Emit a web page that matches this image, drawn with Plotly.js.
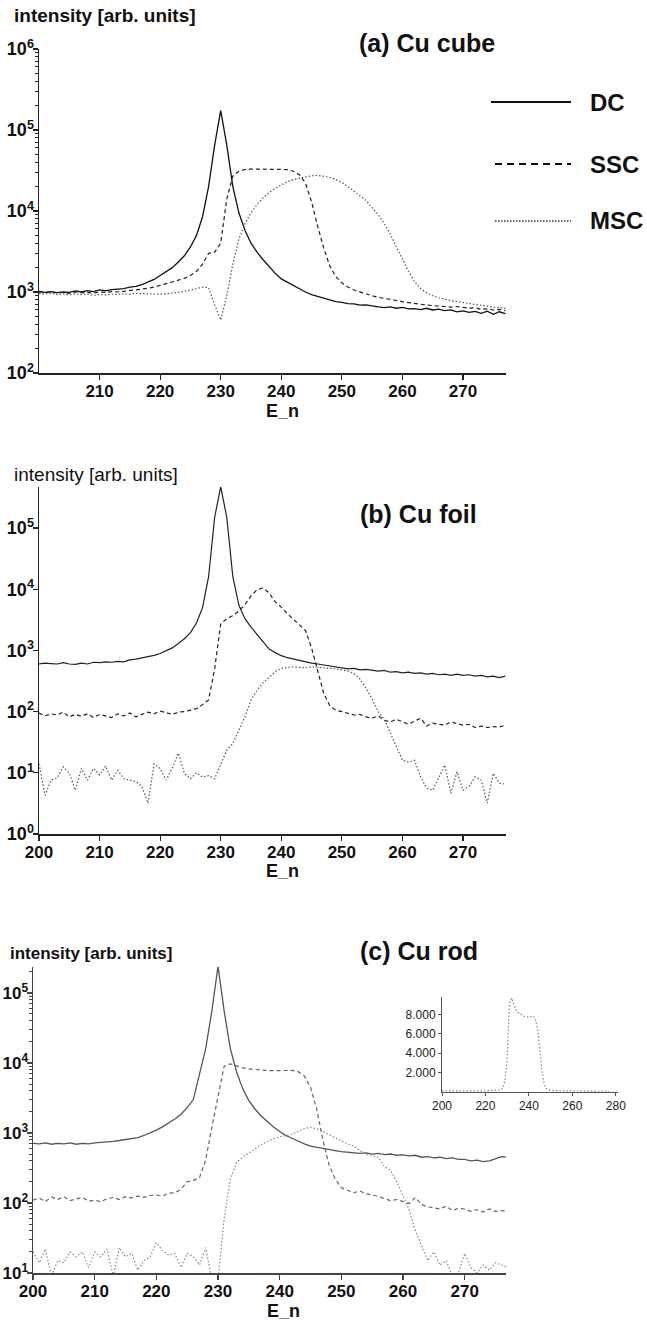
<!DOCTYPE html>
<html>
<head>
<meta charset="utf-8">
<script src="https://cdn.plot.ly/plotly-3.0.1.min.js"></script>
<style>
  html, body { margin: 0; padding: 0; background: #fff; }
  #chart { width: 647px; height: 1322px; }
</style>
</head>
<body>
<div id="chart"></div>
<script>
// ---------------- DATA ----------------
const energy = [200,201,202,203,204,205,206,207,208,209,210,211,212,213,214,215,216,217,218,219,
  220,221,222,223,224,225,226,227,228,229,230,231,232,233,234,235,236,237,238,239,
  240,241,242,243,244,245,246,247,248,249,250,251,252,253,254,255,256,257,258,259,
  260,261,262,263,264,265,266,267,268,269,270,271,272,273,274,275,276,277];

// (a) Cu cube
const dcCube = [1020,990,1010,985,1000,990,1030,1000,1040,1010,1060,1030,1070,1090,1100,1150,1170,1230,1320,1430,
  1600,1780,2000,2350,2800,3600,5000,8500,20000,65000,174000,65000,20000,9500,5800,4000,3100,2500,2050,1700,
  1450,1320,1200,1080,1000,930,880,840,790,760,745,720,715,690,695,670,655,640,655,630,
  645,620,625,605,630,600,615,590,600,570,585,560,575,545,580,530,570,540];
const sscCube = [1000,980,1010,970,990,960,1000,980,990,970,1000,990,1010,1000,1020,1040,1060,1080,1110,1150,
  1200,1260,1330,1400,1470,1600,1800,2200,3000,3100,4000,14000,27000,31000,32500,33000,33000,33000,33000,33000,
  33000,32500,31000,28000,22000,13000,6500,3500,2100,1550,1300,1150,1060,1000,950,900,860,830,800,780,
  760,740,720,700,690,680,670,660,650,660,640,630,640,610,620,600,610,590];
const mscCube = [960,940,970,930,950,920,950,930,940,910,930,920,940,930,950,940,960,950,960,950,
  940,950,960,990,1020,1050,1100,1150,1130,700,450,900,2200,4500,7000,9500,12000,14500,17000,19000,
  21000,23000,24500,25500,26500,27200,27500,27000,26000,24500,22500,20000,17500,15500,13500,11000,9000,7000,5200,3600,
  2500,1800,1350,1100,980,900,850,810,780,760,740,720,700,680,660,650,640,630];

// (b) Cu foil
const dcFoil = [600,620,610,600,630,600,590,620,600,640,630,650,640,660,650,700,720,750,790,830,
  890,980,1100,1300,1550,1950,2800,5000,16000,150000,470000,150000,16000,5500,3300,2400,1800,1350,1050,920,
  820,760,720,680,650,620,600,580,560,540,530,500,510,480,490,470,460,470,440,450,
  430,440,420,430,410,420,400,410,390,410,390,400,380,390,370,380,360,380];
const sscFoil = [95,85,92,88,98,82,90,84,92,80,90,86,80,92,85,95,82,90,98,92,
  102,96,90,98,100,106,112,130,155,500,2700,3300,3700,4400,5600,7800,9800,10500,8700,6200,
  5100,4000,3200,2600,2100,1100,450,200,125,105,100,95,88,90,82,78,85,72,68,75,
  68,62,70,78,58,65,62,60,68,63,60,62,55,58,55,57,56,60];
const mscFoil = [14,4.3,7.6,8.3,12.5,9.8,5.2,11.8,7.6,11.8,9.2,12.9,7.6,11,8,7.6,7.2,5.9,3.2,14,
  11.8,7.6,11.8,21,9.8,8,10,8.5,9,8,14,23.5,30,50,83,155,225,295,370,450,
  510,530,540,530,520,540,530,520,520,500,480,460,420,340,240,160,100,75,45,27,
  16,15,16,8.6,5.6,5.2,8.6,13.4,4.6,10.4,5.2,6,8.6,7.6,3.2,9.8,6.8,6.5];

// (c) Cu rod
const dcRod = [710,700,720,690,710,700,720,690,710,700,720,730,740,760,780,800,820,860,920,1000,
  1100,1220,1380,1580,1850,2300,3000,7000,16000,55000,240000,55000,16000,7500,4300,2900,2200,1750,1450,1220,
  1050,920,840,760,700,650,630,600,580,560,540,530,520,510,520,500,510,490,500,480,
  485,470,480,450,460,440,450,430,440,420,420,400,410,390,400,430,460,450];
const sscRod = [110,118,105,122,112,123,108,115,120,106,110,104,115,120,112,123,118,125,120,128,
  130,125,138,140,157,200,210,230,410,1200,3500,9000,9700,9000,8500,8200,8000,7900,7800,7750,
  7700,7800,7850,7500,6500,4500,2200,800,350,220,165,150,140,148,135,130,125,115,108,112,
  105,98,120,95,88,85,82,90,78,84,82,76,80,74,82,76,78,75];
const mscRod = [20,14,22,9,15,14,20,17,20,12,20,17,22,9,23,17,19,11,15,17,
  27,21,18,19,12,19,17,13,23,8,8,60,220,380,450,520,600,680,760,830,
  880,920,960,1050,1150,1200,1150,1050,950,850,780,700,650,560,500,480,450,330,290,200,
  130,80,40,25,15,20,13,15,9,10,19,12,10,13,11,14,13,12];

// tick values / labels
const xTicksA = [210,220,230,240,250,260,270];
const xTicksBC = [200,210,220,230,240,250,260,270];
const yTicksA = [1e2,1e3,1e4,1e5,1e6];
const yTextA = ['10<sup>2</sup>','10<sup>3</sup>','10<sup>4</sup>','10<sup>5</sup>','10<sup>6</sup>'];
const yTicksB = [1,10,100,1e3,1e4,1e5];
const yTextB = ['10<sup>0</sup>','10<sup>1</sup>','10<sup>2</sup>','10<sup>3</sup>','10<sup>4</sup>','10<sup>5</sup>'];
const yTicksC = [10,100,1e3,1e4,1e5];
const yTextC = ['10<sup>1</sup>','10<sup>2</sup>','10<sup>3</sup>','10<sup>4</sup>','10<sup>5</sup>'];
const insetXTicks = [200,220,240,260,280];
const insetYTicks = [2000,4000,6000,8000];
const insetYText = ['2.000','4.000','6.000','8.000'];
const seriesNames = ['DC','SSC','MSC'];

// ---------------- LAYOUT HELPERS ----------------
const W = 647, H = 1322;
const px = v => v / W;
const py = v => 1 - v / H;

function minorTicks(lo, hi) {
  const out = [];
  for (let e = lo; e < hi; e++) for (let d = 2; d <= 9; d++) out.push(d * Math.pow(10, e));
  return out;
}

const FONT = 'Liberation Sans, Arial, sans-serif';
const bold = (size, color) => ({family: FONT, size: size, weight: 'bold', color: color || '#111'});

function line(x, y, xa, ya, color, dash, width) {
  return {x: x, y: y, xaxis: xa, yaxis: ya, type: 'scatter', mode: 'lines',
    line: {color: color, dash: dash, width: width || 1.2}, showlegend: false, hoverinfo: 'skip'};
}

const DASH = '4px,3px';
const DOT = '1.5px,2px';

const traces = [
  line(energy, dcCube, 'x', 'y', '#111', 'solid', 1.3),
  line(energy, sscCube, 'x', 'y', '#222', DASH),
  line(energy, mscCube, 'x', 'y', '#555', DOT),
  line(energy, dcFoil, 'x2', 'y2', '#222', 'solid', 1.2),
  line(energy, sscFoil, 'x2', 'y2', '#222', DASH),
  line(energy, mscFoil, 'x2', 'y2', '#555', DOT),
  line(energy, dcRod, 'x3', 'y3', '#555', 'solid', 1.3),
  line(energy, sscRod, 'x3', 'y3', '#666', DASH),
  line(energy, mscRod, 'x3', 'y3', '#888', DOT),
  line(energy, sscRod, 'x4', 'y4', '#888', DOT, 1.2)
];

function xAxis(domain, range, anchor, tickvals, color) {
  return {domain: domain, range: range, anchor: anchor, tickmode: 'array', tickvals: tickvals,
    ticktext: tickvals.map(String), showline: true, linecolor: color, linewidth: 1.5,
    ticks: 'outside', ticklen: 5, tickwidth: 1.2, tickcolor: color, showgrid: false, zeroline: false,
    tickfont: bold(17), fixedrange: true, ticklabelstandoff: -3};
}
function yAxis(domain, range, anchor, tickvals, ticktext, color, minor, fsize) {
  const ax = {type: 'log', domain: domain, range: range, anchor: anchor, tickmode: 'array',
    tickvals: tickvals, ticktext: ticktext, showline: true, linecolor: color, linewidth: 1.5,
    ticks: 'outside', ticklen: 5, tickwidth: 1.2, tickcolor: color, showgrid: false, zeroline: false,
    tickfont: bold(fsize || 18), fixedrange: true, ticklabelstandoff: -5};
  if (minor) ax.minor = {tickmode: 'array', tickvals: minor, ticks: 'outside', ticklen: 3,
    tickwidth: 1, tickcolor: color, showgrid: false};
  return ax;
}

const layout = {
  width: W, height: H, margin: {l: 0, r: 0, t: 0, b: 0},
  paper_bgcolor: '#fff', plot_bgcolor: 'rgba(0,0,0,0)', showlegend: false,
  xaxis: xAxis([px(39), px(506)], [200, 277.1], 'y', xTicksA, '#222'),
  yaxis: yAxis([py(373), py(49)], [2, 6], 'x', yTicksA, yTextA, '#222', minorTicks(2, 6), 18),
  xaxis2: xAxis([px(39), px(506)], [200, 277.1], 'y2', xTicksBC, '#222'),
  yaxis2: yAxis([py(834), py(487)], [0, 5.67], 'x2', yTicksB, yTextB, '#222', null, 18),
  xaxis3: xAxis([px(33), px(506)], [200, 276.7], 'y3', xTicksBC, '#444'),
  yaxis3: yAxis([py(1273), py(967)], [1, 5.37], 'x3', yTicksC, yTextC, '#444', minorTicks(1, 6).filter(v => v < 2.35e5), 17),
  xaxis4: {domain: [px(442), px(618)], range: [200, 281], anchor: 'y4', tickmode: 'array',
    tickvals: insetXTicks, ticktext: insetXTicks.map(String), showline: true, linecolor: '#555', linewidth: 1,
    ticks: 'outside', ticklen: 3, tickcolor: '#555', showgrid: false, zeroline: false,
    tickfont: {family: FONT, size: 12, color: '#222'}, fixedrange: true},
  yaxis4: {domain: [py(1092), py(997)], range: [0, 9800], anchor: 'x4', tickmode: 'array',
    tickvals: insetYTicks, ticktext: insetYText, showline: true, linecolor: '#555', linewidth: 1,
    ticks: 'outside', ticklen: 3, tickcolor: '#555', showgrid: false, zeroline: false,
    tickfont: {family: FONT, size: 12, color: '#222'}, fixedrange: true},
  annotations: [
    {text: 'intensity [arb. units]', xref: 'paper', yref: 'paper', x: px(12), y: py(15), xanchor: 'left', yanchor: 'middle', showarrow: false, font: bold(19)},
    {text: '(a) Cu cube', xref: 'paper', yref: 'paper', x: px(357), y: py(43), xanchor: 'left', yanchor: 'middle', showarrow: false, font: bold(25)},
    {text: 'E_n', xref: 'paper', yref: 'paper', x: px(282), y: py(411), xanchor: 'center', yanchor: 'middle', showarrow: false, font: bold(18)},
    {text: 'intensity [arb. units]', xref: 'paper', yref: 'paper', x: px(12), y: py(475), xanchor: 'left', yanchor: 'middle', showarrow: false, font: {family: FONT, size: 19, color: '#111'}},
    {text: '(b) Cu foil', xref: 'paper', yref: 'paper', x: px(358), y: py(514), xanchor: 'left', yanchor: 'middle', showarrow: false, font: bold(25)},
    {text: 'E_n', xref: 'paper', yref: 'paper', x: px(282), y: py(871), xanchor: 'center', yanchor: 'middle', showarrow: false, font: bold(18)},
    {text: 'intensity [arb. units]', xref: 'paper', yref: 'paper', x: px(8), y: py(954), xanchor: 'left', yanchor: 'middle', showarrow: false, font: bold(17)},
    {text: '(c) Cu rod', xref: 'paper', yref: 'paper', x: px(358), y: py(951), xanchor: 'left', yanchor: 'middle', showarrow: false, font: bold(25)},
    {text: 'E_n', xref: 'paper', yref: 'paper', x: px(283), y: py(1311), xanchor: 'center', yanchor: 'middle', showarrow: false, font: bold(18)},
    {text: seriesNames[0], xref: 'paper', yref: 'paper', x: px(588), y: py(103), xanchor: 'left', yanchor: 'middle', showarrow: false, font: bold(24)},
    {text: seriesNames[1], xref: 'paper', yref: 'paper', x: px(588), y: py(164), xanchor: 'left', yanchor: 'middle', showarrow: false, font: bold(24)},
    {text: seriesNames[2], xref: 'paper', yref: 'paper', x: px(588), y: py(221), xanchor: 'left', yanchor: 'middle', showarrow: false, font: bold(24)}
  ],
  shapes: [
    {type: 'line', xref: 'paper', yref: 'paper', x0: px(491), x1: px(571), y0: py(102), y1: py(102), line: {color: '#111', width: 2}},
    {type: 'line', xref: 'paper', yref: 'paper', x0: px(495), x1: px(571), y0: py(164), y1: py(164), line: {color: '#111', width: 2, dash: '7px,5px'}},
    {type: 'line', xref: 'paper', yref: 'paper', x0: px(495), x1: px(571), y0: py(221), y1: py(221), line: {color: '#333', width: 1.6, dash: '1.5px,1.5px'}}
  ]
};

Plotly.newPlot('chart', traces, layout, {staticPlot: true, displayModeBar: false});
</script>
</body>
</html>
